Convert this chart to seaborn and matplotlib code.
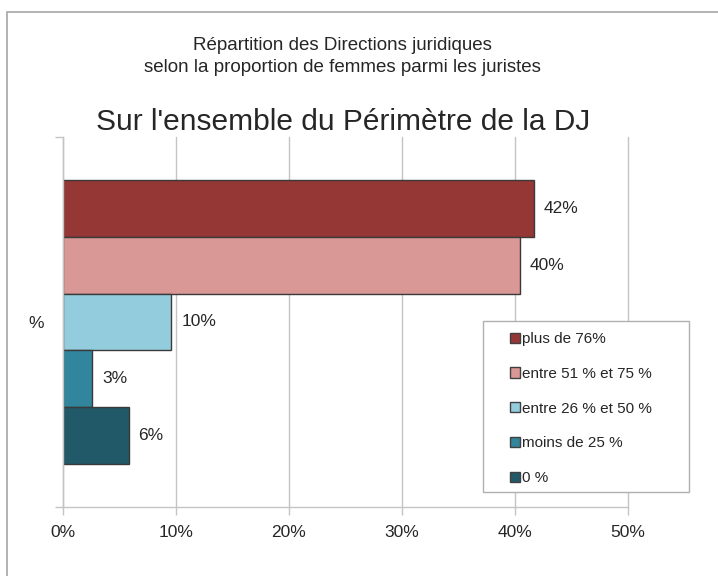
import pandas as pd
import seaborn as sns
import matplotlib.pyplot as plt
from matplotlib.patches import Patch, Rectangle

sns.set_theme(style="white")
plt.rcParams['font.family'] = ['Liberation Sans', 'DejaVu Sans']

# === data ===
groups = ["plus de 76%", "entre 51 % et 75 %", "entre 26 % et 50 %", "moins de 25 %", "0 %"]
values = [41.7, 40.4, 9.6, 2.6, 5.8]
value_labels = ["42%", "40%", "10%", "3%", "6%"]
category = "%"
colors = ["#953735", "#D99795", "#93CDDD", "#31859C", "#215968"]
xticks = [0, 10, 20, 30, 40, 50]
xtick_labels = ["0%", "10%", "20%", "30%", "40%", "50%"]

df = pd.DataFrame({"cat": [category] * len(groups), "group": groups, "value": values})

txt = "#262626"
grid_col = "#c4c4c4"

fig = plt.figure(figsize=(7.18, 5.76), dpi=100)
ax = fig.add_axes([63 / 718, 1 - 507 / 576, 565 / 718, 370 / 576])

sns.barplot(data=df, x="value", y="cat", hue="group", hue_order=groups,
            palette=colors, orient="h", saturation=1, errorbar=None,
            edgecolor="#3a3a3a", linewidth=1, width=0.8, legend=False, ax=ax)

# value labels
for cont, lab in zip(ax.containers, value_labels):
    ax.bar_label(cont, labels=[lab], padding=7, fontsize=12.5, color=txt)

ax.set_xlim(0, 50)
ax.set_ylim(0.52, -0.52)
ax.set_xticks(xticks)
ax.set_xticklabels(xtick_labels)
ax.set_xlabel("")
ax.set_ylabel("")
ax.grid(axis="x", color=grid_col, linewidth=1)
for gl in ax.get_xgridlines():
    gl.set_clip_on(False)
ax.set_axisbelow(True)
ax.set_yticks([0.52, -0.52], minor=True)
ax.tick_params(axis="x", which="major", length=6, width=1, color=grid_col,
               direction="out", bottom=True, pad=7, labelsize=12.5, labelcolor=txt)
ax.tick_params(axis="y", which="major", length=0, pad=14, labelsize=12.5, labelcolor=txt)
ax.tick_params(axis="y", which="minor", length=6, width=1, color=grid_col,
               direction="out", left=True)
for s in ["top", "right"]:
    ax.spines[s].set_visible(False)
for s in ["left", "bottom"]:
    ax.spines[s].set_color(grid_col)
    ax.spines[s].set_linewidth(1)

# titles
fig.text(342 / 718, 1 - 45 / 576, "Répartition des Directions juridiques",
         ha="center", va="center", fontsize=13.5, color=txt)
fig.text(342 / 718, 1 - 68 / 576, "selon la proportion de femmes parmi les juristes",
         ha="center", va="center", fontsize=13.5, color=txt)
fig.text(343 / 718, 1 - 122 / 576, "Sur l'ensemble du Périmètre de la DJ",
         ha="center", va="center", fontsize=21.5, color=txt)

# legend box + entries
fig.patches.append(Rectangle((483 / 718, 1 - 492 / 576), 206 / 718, 171 / 576,
                             transform=fig.transFigure, facecolor="white",
                             edgecolor="#b0b0b0", linewidth=1, zorder=5))
handles = [Patch(facecolor=c, edgecolor="#404040", linewidth=1) for c in colors]
leg = fig.legend(handles, groups, loc="upper left",
                 bbox_to_anchor=(510 / 718, 1 - 332 / 576), frameon=False,
                 borderpad=0, borderaxespad=0, fontsize=11, labelspacing=1.36,
                 handlelength=0.65, handleheight=0.65, handletextpad=0.12,
                 labelcolor=txt)
leg.set_zorder(6)

# outer frame
fig.patches.append(Rectangle((7 / 718, -0.1), 1.2, 1 - 12 / 576 + 0.1,
                             transform=fig.transFigure, facecolor="none",
                             edgecolor="#a6a6a6", linewidth=1.2, zorder=0))

fig.savefig("out.png", dpi=100)
